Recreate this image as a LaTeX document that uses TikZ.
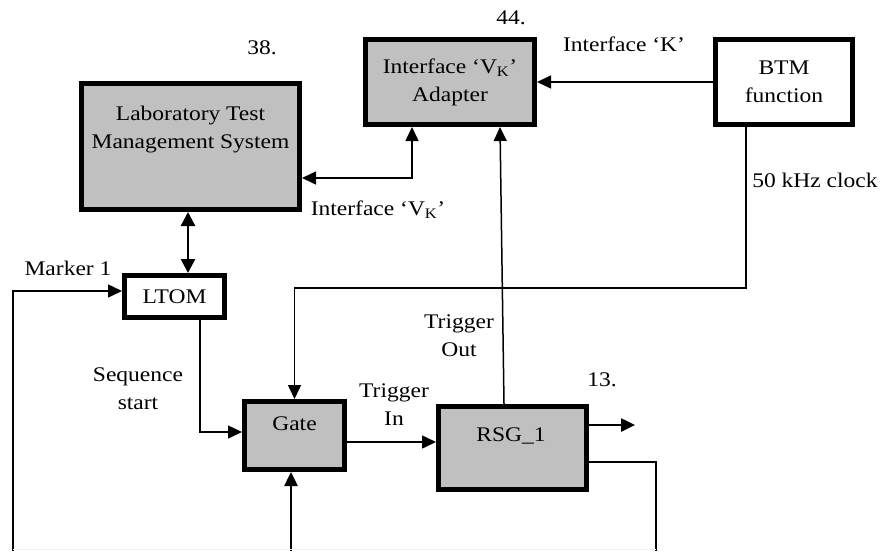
\documentclass[tikz,border=0pt]{standalone}
\usepackage{fontspec}
\setmainfont{Liberation Serif}[FakeStretch=1.13]
\usetikzlibrary{arrows.meta}
\definecolor{boxgray}{HTML}{C0C0C0}
\begin{document}
\begin{tikzpicture}[x=1pt,y=-1pt,
  every node/.style={font=\fontsize{20.8}{28}\selectfont},
  blk/.style={draw, line width=5pt, inner sep=0pt, fill=boxgray, align=center},
  wblk/.style={blk, fill=white},
  lbl/.style={anchor=base, inner sep=0pt, align=center},
  tip/.style={-{Triangle[length=14pt,width=13pt]}},
  con/.style={line width=1.5pt, tip},
  thk/.style={line width=2.5pt}]
\useasboundingbox (0,0) rectangle (882,551);
% boxes
\node[blk, minimum width=218pt, minimum height=126pt] (ltms) at (190.5,146.5) {};
\node[blk, minimum width=169pt, minimum height=85pt] (adapt) at (450,82) {Interface ‘V\textsubscript{K}’\\Adapter};
\node[wblk, minimum width=137pt, minimum height=85pt] (btm) at (784,82) {BTM\\function};
\node[wblk, minimum width=100pt, minimum height=42pt] (ltom) at (174.5,296.5) {LTOM};
\node[blk, minimum width=100pt, minimum height=68pt] (gate) at (294.5,435.5) {};
\node[blk, minimum width=148pt, minimum height=83pt] (rsg) at (512.5,448) {};
% texts inside boxes (base = last line)
\node[lbl] (ltmst) at (190.5,148) {Laboratory Test\\Management System};
\node[lbl] (gatet) at (294.5,430) {Gate};
\node[lbl] (rsgt) at (511,441) {RSG\_1};
% free labels
\node[lbl] (n38) at (262,55) {38.};
\node[lbl] (n44) at (511,25) {44.};
\node[lbl] (n13) at (602,386) {13.};
\node[lbl] (ifk) at (624,52) {Interface ‘K’};
\node[lbl] (ifvk) at (378,215) {Interface ‘V\textsubscript{K}’};
\node[lbl] (clk) at (815,187) {50 kHz clock};
\node[lbl] (mk1) at (68,275) {Marker 1};
\node[lbl] (seq) at (138,409.3) {Sequence\\start};
\node[lbl] (tin) at (394,425) {Trigger\\In};
\node[lbl] (tout) at (459,356.7) {Trigger\\Out};
% free ends
\coordinate (mbot) at (13,551);
\coordinate (gbot) at (291,551);
\coordinate (rbot) at (656,551);
\coordinate (out) at (635,425);
% connectors
\draw[con] (btm.west) -- (adapt.east);
\draw[line width=1.5pt, {Triangle[length=14pt,width=13pt]}-{Triangle[length=14pt,width=13pt]}]
  (ltms.east |- 0,178) -| (adapt.south -| 412,0);
\draw[thk, {Triangle[length=14pt,width=14pt]}-{Triangle[length=14pt,width=14pt]}]
  (ltms.south -| 188,0) -- (ltom.north -| 188,0);
\draw[con] (mbot) |- (ltom.west |- 0,291);
\draw[con] (ltom.south -| 200,0) |- (gate.west |- 0,432);
\draw[con] (btm.south -| 746,0) -- (746,288) -| (gate.north);
\draw[con] (gate.east |- 0,442) -- (rsg.west |- 0,442);
\draw[con] (rsg.north -| 504,0) -- (adapt.south -| 500,0);
\draw[thk, tip] (rsg.east |- 0,425) -- (out);
\draw[thk] (rsg.east |- 0,462) -| (rbot);
\draw[thk, tip] (gbot) -- (gate.south -| 291,0);
\draw[line width=1.5pt, gray!12] (mbot |- 0,549.5) -- (rbot |- 0,549.5);
\end{tikzpicture}
\end{document}
